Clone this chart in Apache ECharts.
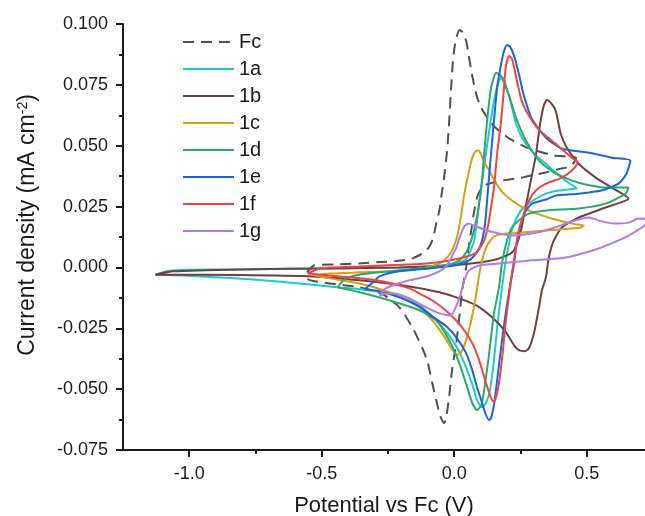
<!DOCTYPE html>
<html><head><meta charset="utf-8">
<script src="https://cdn.jsdelivr.net/npm/echarts@6/dist/echarts.min.js"></script>
<style>html,body{margin:0;padding:0;background:#fff}#c{width:645px;height:516px}</style>
</head><body><div id="c"></div>
<script>
// Series names (legend order)
const seriesNames = ['Fc', '1a', '1b', '1c', '1d', '1e', '1f', '1g'];

// Each array: [potential vs Fc (V), current density (mA cm-2)]
const cvFc = [[-0.555,-0.002],[-0.53,0.0008],[-0.45,0.0012],[-0.36,0.0016],[-0.28,0.0022],[-0.2,0.0028],[-0.16,0.0036],[-0.132,0.005],[-0.11,0.0065],[-0.094,0.0085],[-0.08,0.012],[-0.068,0.018],[-0.056,0.0235],[-0.045,0.032],[-0.038,0.037],[-0.031,0.044],[-0.026,0.049],[-0.019,0.060],[-0.011,0.075],[-0.004,0.086],[0.006,0.0935],[0.02,0.0975],[0.032,0.0966],[0.045,0.093],[0.055,0.087],[0.064,0.081],[0.075,0.075],[0.086,0.070],[0.1,0.066],[0.113,0.0635],[0.15,0.058],[0.207,0.053],[0.28,0.049],[0.376,0.046],[0.43,0.0455],[0.46,0.045],
  [0.44,0.0415],[0.40,0.0405],[0.345,0.039],[0.26,0.037],[0.17,0.0355],[0.12,0.034],[0.1,0.032],[0.086,0.0287],[0.072,0.021],[0.064,0.015],[0.056,0.0098],[0.045,0],[0.03,-0.0094],[0.019,-0.0205],[0.008,-0.031],[-0.008,-0.042],[-0.019,-0.053],[-0.03,-0.0615],[-0.038,-0.064],[-0.047,-0.0625],[-0.056,-0.060],[-0.068,-0.0545],[-0.083,-0.0475],[-0.1,-0.039],[-0.12,-0.0332],[-0.158,-0.0246],[-0.207,-0.0164],[-0.27,-0.011],[-0.357,-0.0082],[-0.47,-0.0066],[-0.55,-0.005],[-0.555,-0.002]];

const cv1a = [[-1.128,-0.003],[-1.08,-0.0015],[-1.0,-0.001],[-0.8,-0.0008],[-0.6,-0.0005],[-0.4,-0.0003],[-0.21,0],[-0.1,0.0004],[-0.03,0.001],[0.019,0.002],[0.045,0.0035],[0.06,0.0065],[0.075,0.011],[0.086,0.019],[0.094,0.026],[0.101,0.032],[0.116,0.044],[0.132,0.056],[0.147,0.0664],[0.162,0.0745],[0.172,0.0772],[0.181,0.078],[0.19,0.0765],[0.199,0.0728],[0.207,0.0705],[0.22,0.065],[0.233,0.059],[0.255,0.0535],[0.282,0.0492],[0.31,0.0458],[0.346,0.0426],[0.375,0.0398],[0.406,0.0369],[0.435,0.0345],[0.462,0.0324],
  [0.44,0.0322],[0.395,0.0316],[0.346,0.0303],[0.30,0.0277],[0.27,0.0254],[0.244,0.022],[0.226,0.018],[0.215,0.0145],[0.207,0.0098],[0.195,0.0029],[0.184,-0.0053],[0.165,-0.0217],[0.15,-0.0381],[0.135,-0.0504],[0.12,-0.0557],[0.105,-0.0574],[0.086,-0.0545],[0.068,-0.048],[0.041,-0.040],[0.011,-0.033],[-0.026,-0.027],[-0.075,-0.021],[-0.132,-0.0156],[-0.207,-0.0119],[-0.32,-0.0094],[-0.432,-0.0082],[-0.583,-0.0066],[-0.77,-0.0049],[-0.959,-0.0037],[-1.11,-0.003],[-1.128,-0.003]];

const cv1b = [[-1.128,-0.003],[-1.06,-0.0016],[-0.808,-0.0008],[-0.47,-0.0004],[-0.207,0],[-0.019,0.0008],[0.094,0.002],[0.169,0.0037],[0.218,0.0061],[0.237,0.0098],[0.252,0.0152],[0.263,0.0213],[0.278,0.0295],[0.293,0.0377],[0.308,0.0459],[0.323,0.0582],[0.338,0.0664],[0.35,0.0689],[0.365,0.0676],[0.383,0.0643],[0.402,0.0549],[0.425,0.0492],[0.47,0.0426],[0.534,0.0369],[0.594,0.0328],[0.658,0.0283],
  [0.571,0.0246],[0.47,0.0205],[0.406,0.0164],[0.376,0.0111],[0.357,0.0041],[0.346,-0.0041],[0.331,-0.0094],[0.32,-0.0164],[0.301,-0.027],[0.282,-0.0332],[0.267,-0.0344],[0.244,-0.034],[0.226,-0.032],[0.195,-0.0266],[0.143,-0.0205],[0.083,-0.0156],[0.019,-0.0127],[-0.056,-0.0102],[-0.169,-0.0078],[-0.357,-0.0053],[-0.534,-0.0037],[-0.808,-0.0031],[-1.128,-0.003]];

const cv1c = [[-0.526,-0.0033],[-0.47,-0.0025],[-0.357,-0.002],[-0.233,-0.0016],[-0.105,0],[-0.056,0.0016],[-0.03,0.0037],[-0.008,0.007],[0.011,0.0127],[0.026,0.0213],[0.038,0.030],[0.056,0.0398],[0.071,0.0459],[0.082,0.0478],[0.09,0.048],[0.098,0.0472],[0.105,0.0455],[0.118,0.0425],[0.132,0.0398],[0.15,0.036],[0.169,0.0328],[0.19,0.030],[0.218,0.0275],[0.25,0.0252],[0.282,0.0234],[0.32,0.0218],[0.368,0.0201],[0.41,0.0189],[0.444,0.018],[0.475,0.0175],[0.489,0.0172],
  [0.475,0.0163],[0.444,0.016],[0.346,0.0152],[0.256,0.0143],[0.195,0.0139],[0.15,0.0127],[0.124,0.009],[0.105,0.0029],[0.094,-0.0033],[0.079,-0.0135],[0.06,-0.0238],[0.041,-0.0311],[0.026,-0.0348],[0.011,-0.036],[-0.008,-0.0336],[-0.038,-0.0283],[-0.083,-0.0217],[-0.132,-0.0164],[-0.233,-0.0107],[-0.357,-0.0066],[-0.47,-0.0045],[-0.526,-0.0033]];

const cv1d = [[-0.44,-0.0082],[-0.414,-0.0049],[-0.357,-0.0029],[-0.207,-0.0012],[-0.094,0],[-0.019,0.0012],[0.019,0.0029],[0.045,0.0061],[0.064,0.0111],[0.079,0.0172],[0.09,0.0234],[0.102,0.0328],[0.113,0.0467],[0.124,0.0602],[0.139,0.0738],[0.15,0.0783],[0.158,0.080],[0.173,0.0791],[0.192,0.075],[0.207,0.0705],[0.233,0.0615],[0.271,0.052],[0.32,0.0439],[0.383,0.0385],[0.47,0.0348],[0.571,0.0328],[0.658,0.0328],
  [0.647,0.0303],[0.571,0.0262],[0.47,0.0242],[0.346,0.0234],[0.282,0.0221],[0.244,0.0193],[0.218,0.0164],[0.199,0.0111],[0.18,0.0016],[0.169,-0.0082],[0.15,-0.0189],[0.132,-0.0352],[0.113,-0.0504],[0.102,-0.0566],[0.086,-0.0586],[0.068,-0.0557],[0.049,-0.0492],[0.019,-0.0393],[-0.019,-0.0299],[-0.068,-0.0217],[-0.132,-0.0176],[-0.233,-0.0139],[-0.357,-0.0102],[-0.44,-0.0082]];

const cv1e = [[-0.338,-0.009],[-0.312,-0.0066],[-0.282,-0.0037],[-0.207,-0.0016],[-0.094,-0.0004],[0,0.0008],[0.056,0.0029],[0.086,0.0061],[0.105,0.0111],[0.117,0.0184],[0.124,0.0275],[0.132,0.0377],[0.139,0.0467],[0.15,0.0602],[0.162,0.0738],[0.177,0.0836],[0.188,0.0889],[0.199,0.0914],[0.211,0.0906],[0.226,0.0869],[0.244,0.0795],[0.263,0.0705],[0.293,0.0611],[0.346,0.0533],[0.406,0.0488],[0.508,0.0471],[0.594,0.0451],[0.665,0.0439],
  [0.65,0.0385],[0.62,0.0344],[0.556,0.0316],[0.47,0.0303],[0.383,0.0295],[0.346,0.0279],[0.293,0.0262],[0.271,0.0234],[0.252,0.018],[0.237,0.0111],[0.226,0.0016],[0.212,-0.0066],[0.194,-0.0189],[0.177,-0.0328],[0.162,-0.0463],[0.15,-0.0566],[0.139,-0.0619],[0.132,-0.0627],[0.117,-0.0598],[0.102,-0.0545],[0.086,-0.0492],[0.068,-0.0422],[0.045,-0.0352],[0.008,-0.0287],[-0.03,-0.0242],[-0.083,-0.0201],[-0.132,-0.016],[-0.207,-0.0123],[-0.282,-0.0098],[-0.338,-0.009]];

const cv1f = [[-0.553,-0.0025],[-0.508,-0.0004],[-0.357,0.0004],[-0.105,0.0016],[0.019,0.0037],[0.083,0.0061],[0.113,0.0111],[0.128,0.0172],[0.139,0.0246],[0.15,0.0328],[0.162,0.0467],[0.177,0.0602],[0.188,0.0738],[0.195,0.0828],[0.207,0.0869],[0.218,0.0857],[0.229,0.0807],[0.241,0.0745],[0.256,0.068],[0.282,0.0623],[0.32,0.0565],[0.383,0.0508],[0.444,0.0451],[0.466,0.043],
  [0.444,0.0398],[0.406,0.0369],[0.346,0.0344],[0.308,0.0316],[0.282,0.0275],[0.263,0.0221],[0.244,0.0152],[0.233,0.0082],[0.218,-0.0025],[0.207,-0.0115],[0.195,-0.0217],[0.184,-0.034],[0.173,-0.0443],[0.162,-0.0516],[0.15,-0.0553],[0.139,-0.0537],[0.12,-0.0475],[0.094,-0.0381],[0.068,-0.0311],[0.03,-0.0246],[-0.019,-0.0189],[-0.083,-0.0135],[-0.132,-0.0107],[-0.169,-0.0086],[-0.293,-0.0053],[-0.432,-0.0037],[-0.553,-0.0025]];

const cv1g = [[-0.282,-0.0119],[-0.263,-0.009],[-0.233,-0.0074],[-0.169,-0.0053],[-0.105,-0.0037],[-0.056,-0.0016],[-0.03,0.0004],[-0.011,0.0041],[0.008,0.0082],[0.023,0.0131],[0.038,0.0168],[0.053,0.018],[0.075,0.0172],[0.113,0.0156],[0.169,0.0139],[0.218,0.0131],[0.293,0.0139],[0.368,0.016],[0.444,0.0189],[0.508,0.0205],[0.545,0.0193],[0.602,0.018],[0.658,0.0184],[0.695,0.0201],[0.735,0.0195],
  [0.714,0.0168],[0.658,0.0131],[0.62,0.0111],[0.545,0.0078],[0.421,0.0041],[0.293,0.0029],[0.207,0.002],[0.094,0.0008],[0.056,-0.0012],[0.038,-0.0053],[0.023,-0.0115],[0.004,-0.0168],[-0.011,-0.0197],[-0.03,-0.0195],[-0.056,-0.0189],[-0.105,-0.0164],[-0.169,-0.0127],[-0.226,-0.0107],[-0.263,-0.0107],[-0.282,-0.0119]];

const cvData = [cvFc, cv1a, cv1b, cv1c, cv1d, cv1e, cv1f, cv1g];

// Axis ticks
const xMajorTicks = [-1.0, -0.5, 0.0, 0.5];
const xMinorTicks = [-0.75, -0.25, 0.25];

const colors = ['#505050', '#1fc9c9', '#6d4141', '#d4a017', '#2ea86a', '#1a66d9', '#f04343', '#b47ae6'];
const FONT = '"Liberation Sans", Arial, sans-serif';
const AX = '#1a1a1a';

const chart = echarts.init(document.getElementById('c'), null, {renderer: 'canvas'});
chart.setOption({
  animation: false,
  backgroundColor: '#fff',
  textStyle: {fontFamily: FONT},
  grid: {left: 123, top: 24, right: 0, bottom: 66, containLabel: false, outerBoundsMode: 'none'},
  legend: {
    orient: 'vertical', left: 182, top: 32, padding: 0,
    itemWidth: 51, itemHeight: 14, itemGap: 7,
    itemStyle: {opacity: 0},
    textStyle: {fontSize: 20, color: AX, fontFamily: FONT},
    data: seriesNames
  },
  xAxis: [{
    type: 'value', min: -1.25, max: 0.72, position: 'bottom',
    axisLine: {show: true, onZero: false, lineStyle: {color: AX, width: 2}},
    axisTick: {show: true, length: 7, customValues: xMajorTicks, lineStyle: {color: AX, width: 2}},
    axisLabel: {customValues: xMajorTicks, formatter: v => v.toFixed(1), fontSize: 18, color: AX, margin: 15, fontFamily: FONT},
    splitLine: {show: false},
    name: 'Potential vs Fc (V)', nameLocation: 'middle', nameGap: 45,
    nameTextStyle: {fontSize: 22, color: AX, fontFamily: FONT}
  }, {
    type: 'value', min: -1.25, max: 0.72, position: 'bottom',
    axisLine: {show: false, onZero: false},
    axisTick: {show: true, length: 4, customValues: xMinorTicks, lineStyle: {color: AX, width: 2}},
    axisLabel: {show: false},
    splitLine: {show: false}
  }],
  yAxis: {
    type: 'value', min: -0.075, max: 0.1, interval: 0.025,
    axisLine: {show: true, onZero: false, lineStyle: {color: AX, width: 2}},
    axisTick: {show: true, length: 7, lineStyle: {color: AX, width: 2}},
    minorTick: {show: true, splitNumber: 2, length: 4, lineStyle: {color: AX, width: 2}},
    axisLabel: {formatter: v => v.toFixed(3), fontSize: 18, color: AX, margin: 15, fontFamily: FONT},
    splitLine: {show: false},
    name: '{n|Current density (mA cm}{s|-2}{n|)}', nameLocation: 'middle', nameGap: 84,
    nameTextStyle: {fontSize: 23, color: AX, fontFamily: FONT, padding: [0, 0, 0, 24],
      rich: {n: {fontSize: 23, color: AX, fontFamily: FONT}, s: {fontSize: 14, color: AX, fontFamily: FONT, verticalAlign: 'top'}}}
  },
  series: seriesNames.map((name, i) => ({
    name: name, type: 'line', data: cvData[i],
    showSymbol: false, symbol: 'none', smooth: 0.2, clip: true,
    color: colors[i],
    lineStyle: {width: 2, color: colors[i], type: i === 0 ? [11, 7] : 'solid'},
    emphasis: {disabled: true}
  }))
});
</script></body></html>
